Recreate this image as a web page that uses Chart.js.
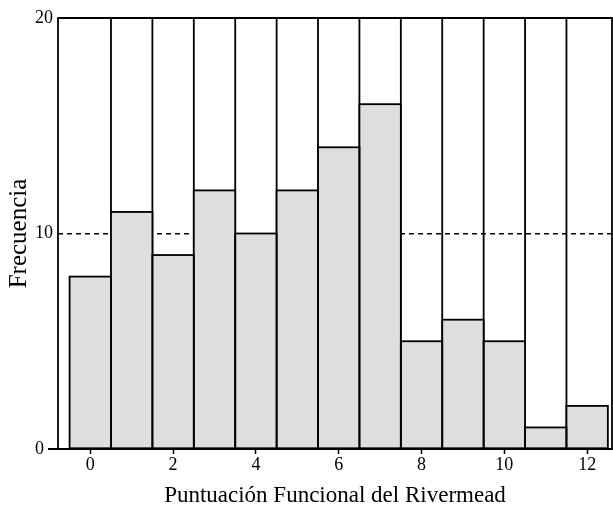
<!DOCTYPE html>
<html>
<head>
<meta charset="utf-8">
<script src="https://cdn.jsdelivr.net/npm/chart.js@4"></script>
<style>
  html, body { margin: 0; padding: 0; background: #fff; }
  #wrap { width: 613px; height: 507px; }
</style>
</head>
<body>
<div id="wrap"><canvas id="histo" width="613" height="507"></canvas></div>
<script>
// Puntuacion (categorias) y frecuencias
const scores = [0, 1, 2, 3, 4, 5, 6, 7, 8, 9, 10, 11, 12];
const freqs = [8, 11, 9, 12, 10, 12, 14, 16, 5, 6, 5, 1, 2];
const xTicks = [0, 2, 4, 6, 8, 10, 12];
const yTicks = [0, 10, 20];
const refLine = 10;

const serif = '"Liberation Serif", "DejaVu Serif", serif';

// marco, separadores entre barras y contornos
const framePlugin = {
    id: 'frame',
    beforeDatasetsDraw(chart) {
        const { ctx, chartArea: a, scales: { x } } = chart;
        ctx.save();
        ctx.strokeStyle = '#000';
        ctx.lineWidth = 1.8;
        ctx.beginPath();
        for (let i = 0; i < scores.length - 1; i++) {
            const px = x.getPixelForValue(scores[i] + 0.5);
            ctx.moveTo(px, a.top);
            ctx.lineTo(px, a.bottom);
        }
        ctx.stroke();
        ctx.restore();
    },
    afterDatasetsDraw(chart) {
        const { ctx, chartArea: a } = chart;
        ctx.save();
        ctx.strokeStyle = '#000';
        ctx.lineWidth = 1.8;
        chart.getDatasetMeta(0).data.forEach(bar => {
            const w = bar.width;
            ctx.strokeRect(bar.x - w / 2, bar.y, w, bar.base - bar.y);
        });
        ctx.beginPath();
        ctx.moveTo(a.left - 10, a.bottom);
        ctx.lineTo(a.right, a.bottom);
        ctx.lineTo(a.right, a.top);
        ctx.lineTo(a.left, a.top);
        ctx.lineTo(a.left, a.bottom);
        ctx.stroke();
        ctx.restore();
    }
};

new Chart(document.getElementById('histo'), {
    type: 'bar',
    data: {
        datasets: [{
            data: scores.map((s, i) => ({ x: s, y: freqs[i] })),
            backgroundColor: '#dedede',
            borderWidth: 0,
            barPercentage: 1,
            categoryPercentage: 1,
            grouped: false
        }]
    },
    options: {
        responsive: false,
        animation: false,
        events: [],
        layout: { padding: { top: 18, right: 1, left: 0, bottom: 0 } },
        plugins: { legend: { display: false }, tooltip: { enabled: false } },
        scales: {
            x: {
                type: 'linear',
                offset: false,
                min: -0.78,
                max: 12.6,
                afterBuildTicks: s => { s.ticks = xTicks.map(v => ({ value: v })); },
                afterFit: s => { s.height = 58; },
                border: { display: false },
                grid: { offset: false, drawOnChartArea: false, drawTicks: true, tickLength: 5, tickColor: '#000', tickWidth: 1.5 },
                ticks: { color: '#000', font: { family: serif, size: 18 }, padding: 0, maxRotation: 0 },
                title: {
                    display: true,
                    text: 'Puntuación Funcional del Rivermead',
                    color: '#000',
                    font: { family: serif, size: 23, lineHeight: 1 },
                    padding: { top: 0, bottom: 0 }
                }
            },
            y: {
                min: 0,
                max: 20,
                afterBuildTicks: s => { s.ticks = yTicks.map(v => ({ value: v })); },
                afterFit: s => { s.width = 58; },
                border: { display: false, dash: [5, 4] },
                grid: {
                    drawTicks: false,
                    color: c => c.tick && c.tick.value === refLine ? '#000' : 'rgba(0,0,0,0)',
                    lineWidth: 1.5
                },
                ticks: {
                    color: '#000',
                    font: { family: serif, size: 18 },
                    padding: 5,
                    // el 0 queda a la izquierda de la prolongacion del eje
                    callback: v => v === 0 ? '0\u2002' : String(v)
                },
                title: {
                    display: true,
                    text: 'Frecuencia',
                    color: '#000',
                    font: { family: serif, size: 25, lineHeight: 1 },
                    padding: { top: 7, bottom: 0 }
                }
            }
        }
    },
    plugins: [framePlugin]
});
</script>
</body>
</html>
